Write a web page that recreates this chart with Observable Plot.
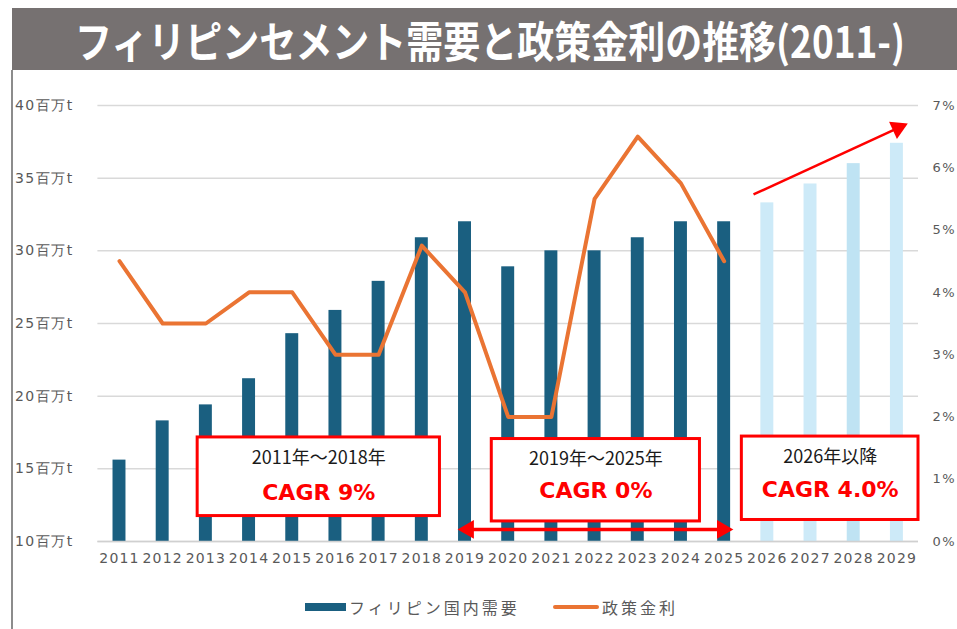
<!DOCTYPE html>
<html>
<head>
<meta charset="utf-8">
<script src="https://cdn.jsdelivr.net/npm/d3@7"></script>
<script src="https://cdn.jsdelivr.net/npm/@observablehq/plot@0.6"></script>
<style>
  html, body { margin: 0; padding: 0; background: #fff; }
  body { width: 957px; height: 629px; position: relative; overflow: hidden; font-family: "Noto Sans CJK JP", "Noto Sans", sans-serif; }
  #titlebar { position: absolute; left: 12px; top: 8px; width: 945px; height: 62px; background: #767171; }
  #titlebar svg { display: block; }
  #vline { position: absolute; left: 11px; top: 70px; width: 2px; height: 559px; background: #8c8c8c; }
  #chart { position: absolute; left: 0; top: 70px; }
  #chart g[aria-label="y-axis tick label"] text { letter-spacing: 1.5px; }
  #chart g[aria-label="x-axis tick label"] text { letter-spacing: 1.2px; }
  #legend { position: absolute; top: 596px; left: 0; width: 957px; height: 22px; font-size: 16px; color: #595959; }
  .lg { position: absolute; top: 0; white-space: nowrap; letter-spacing: 3px; line-height: 22px; }
  .sw { position: absolute; }
</style>
</head>
<body>
<div id="titlebar">
  <svg width="945" height="62">
    <g transform="translate(0,32) scale(1,1.3)">
      <text id="title" x="63" y="0" dominant-baseline="central" fill="#fff" font-weight="700" font-size="33" font-family="Noto Sans CJK JP" textLength="830" lengthAdjust="spacingAndGlyphs"></text>
    </g>
  </svg>
</div>
<div id="vline"></div>
<div id="chart"></div>
<div id="legend">
  <div class="sw" style="left:305px; top:7px; width:41px; height:8px; background:#1a5f80;"></div>
  <div class="lg" id="lg1" style="left:349px;"></div>
  <div class="sw" style="left:553px; top:9px; width:46px; height:4px; background:#ea7433; border-radius:2px;"></div>
  <div class="lg" id="lg2" style="left:602px;"></div>
</div>
<script>
// ---- data ----
const titleText = "フィリピンセメント需要と政策金利の推移(2011-)";
const years = [2011,2012,2013,2014,2015,2016,2017,2018,2019,2020,2021,2022,2023,2024,2025,2026,2027,2028,2029];
const demand = [15.6,18.3,19.4,21.2,24.3,25.9,27.9,30.9,32.0,28.9,30.0,30.0,30.9,32.0,32.0,33.3,34.6,36.0,37.4]; // 百万t
const rateYears = [2011,2012,2013,2014,2015,2016,2017,2018,2019,2020,2021,2022,2023,2024,2025];
const rate = [4.5,3.5,3.5,4.0,4.0,3.0,3.0,4.75,4.0,2.0,2.0,5.5,6.5,5.75,4.5]; // %
const forecastFrom = 2026;
const leftTicks = [10,15,20,25,30,35,40];
const rightTicks = [0,1,2,3,4,5,6,7];
const legendLabels = ["フィリピン国内需要", "政策金利"];
const boxes = [
  {x1: 2012.81, x2: 2018.42, y1: 11.75, y2: 17.16, t1: "2011年～2018年", t2: "CAGR 9%", ty1: 15.71, ty2: 13.37},
  {x1: 2019.62, x2: 2024.44, y1: 11.38, y2: 17.05, t1: "2019年～2025年", t2: "CAGR 0%", ty1: 15.64, ty2: 13.51},
  {x1: 2025.41, x2: 2029.5, y1: 11.48, y2: 17.22, t1: "2026年以降", t2: "CAGR 4.0%", ty1: 15.78, ty2: 13.58}
];
const spanArrow = {x1: 2018.94, x2: 2025.10, y: 10.83};
const trendArrow = {x1: 2025.68, y1: 33.88, x2: 2029.15, y2: 38.62};

document.getElementById("title").textContent = titleText;
document.getElementById("lg1").textContent = legendLabels[0];
document.getElementById("lg2").textContent = legendLabels[1];

// ---- layout ----
const W = 957, H = 520, mt = 35, mb = 49, ml = 97.4, mr = 39;
const xDom = [2010.5, 2029.5], yDom = [10, 40];
const rMax = 7;
const rateToY = r => yDom[0] + r * (yDom[1] - yDom[0]) / rMax;
const kx = (W - ml - mr) / (xDom[1] - xDom[0]);
const ky = (H - mt - mb) / (yDom[1] - yDom[0]);

const bars = years.map((y, i) => ({year: y, v: demand[i]}));
const line = rateYears.map((y, i) => ({year: y, r: rate[i]}));
const barFill = d => d.year >= forecastFrom ? (d.year === 2028 ? "#bfe3f3" : "#cdeaf8") : "#1a5f80";

const ang = Math.atan2((trendArrow.y2 - trendArrow.y1) * ky, (trendArrow.x2 - trendArrow.x1) * kx);
const back = 6; // px the head centre sits behind the tip
const heads = [
  {x: spanArrow.x2 - back / kx, y: spanArrow.y, rot: 90},
  {x: spanArrow.x1 + back / kx, y: spanArrow.y, rot: -90},
  {x: trendArrow.x2 - back * Math.cos(ang) / kx, y: trendArrow.y2 - back * Math.sin(ang) / ky, rot: 90 - ang * 180 / Math.PI}
];

const chart = Plot.plot({
  width: W, height: H,
  marginTop: mt, marginBottom: mb, marginLeft: ml, marginRight: mr,
  x: {domain: xDom},
  y: {domain: yDom},
  style: {fontFamily: "DejaVu Sans, sans-serif", background: "transparent"},
  marks: [
    Plot.ruleY(leftTicks, {stroke: "#d9d9d9", strokeWidth: 1.5}),
    Plot.axisY(leftTicks, {anchor: "left", tickSize: 0, tickPadding: 0, textAnchor: "start", dx: -83, fontSize: 14, fill: "#595959", tickFormat: d => d + "百万t", label: null}),
    Plot.axisY(rightTicks.map(rateToY), {anchor: "right", tickSize: 0, tickPadding: 14, fontSize: 13, fill: "#595959", tickFormat: (d, i) => rightTicks[i] + "%", label: null}),
    Plot.axisX(years, {anchor: "bottom", tickSize: 0, tickPadding: 12, fontSize: 14, fill: "#595959", tickFormat: d => String(d), label: null}),
    Plot.rectY(bars, {x1: d => d.year - 0.15, x2: d => d.year + 0.15, y1: yDom[0], y2: "v", fill: barFill}),
    Plot.ruleY([yDom[0]], {stroke: "#d0d0d0", strokeWidth: 1.5}),
    Plot.line(line, {x: "year", y: d => rateToY(d.r), stroke: "#ea7433", strokeWidth: 4, strokeLinejoin: "round"}),
    Plot.rect(boxes, {x1: "x1", x2: "x2", y1: "y1", y2: "y2", fill: "white", stroke: "#ff0000", strokeWidth: 3}),
    Plot.text(boxes, {x: d => (d.x1 + d.x2) / 2, y: "ty1", text: "t1", fontSize: 18, fill: "#1a1a1a", fontFamily: "Noto Sans CJK JP"}),
    Plot.text(boxes, {x: d => (d.x1 + d.x2) / 2, y: "ty2", text: "t2", fontSize: 22, fontWeight: "bold", fill: "#ff0000", fontFamily: "DejaVu Sans"}),
    Plot.link([spanArrow], {x1: d => d.x1 + 8 / kx, x2: d => d.x2 - 8 / kx, y1: "y", y2: "y", stroke: "#ff0000", strokeWidth: 3.5}),
    Plot.link([trendArrow], {x1: "x1", x2: d => d.x2 - 8 * Math.cos(ang) / kx, y1: "y1", y2: d => d.y2 - 8 * Math.sin(ang) / ky, stroke: "#ff0000", strokeWidth: 2.5}),
    Plot.dot(heads, {x: "x", y: "y", rotate: "rot", symbol: "triangle", r: 7, fill: "#ff0000", stroke: "none"})
  ]
});
document.getElementById("chart").appendChild(chart);
</script>
</body>
</html>
